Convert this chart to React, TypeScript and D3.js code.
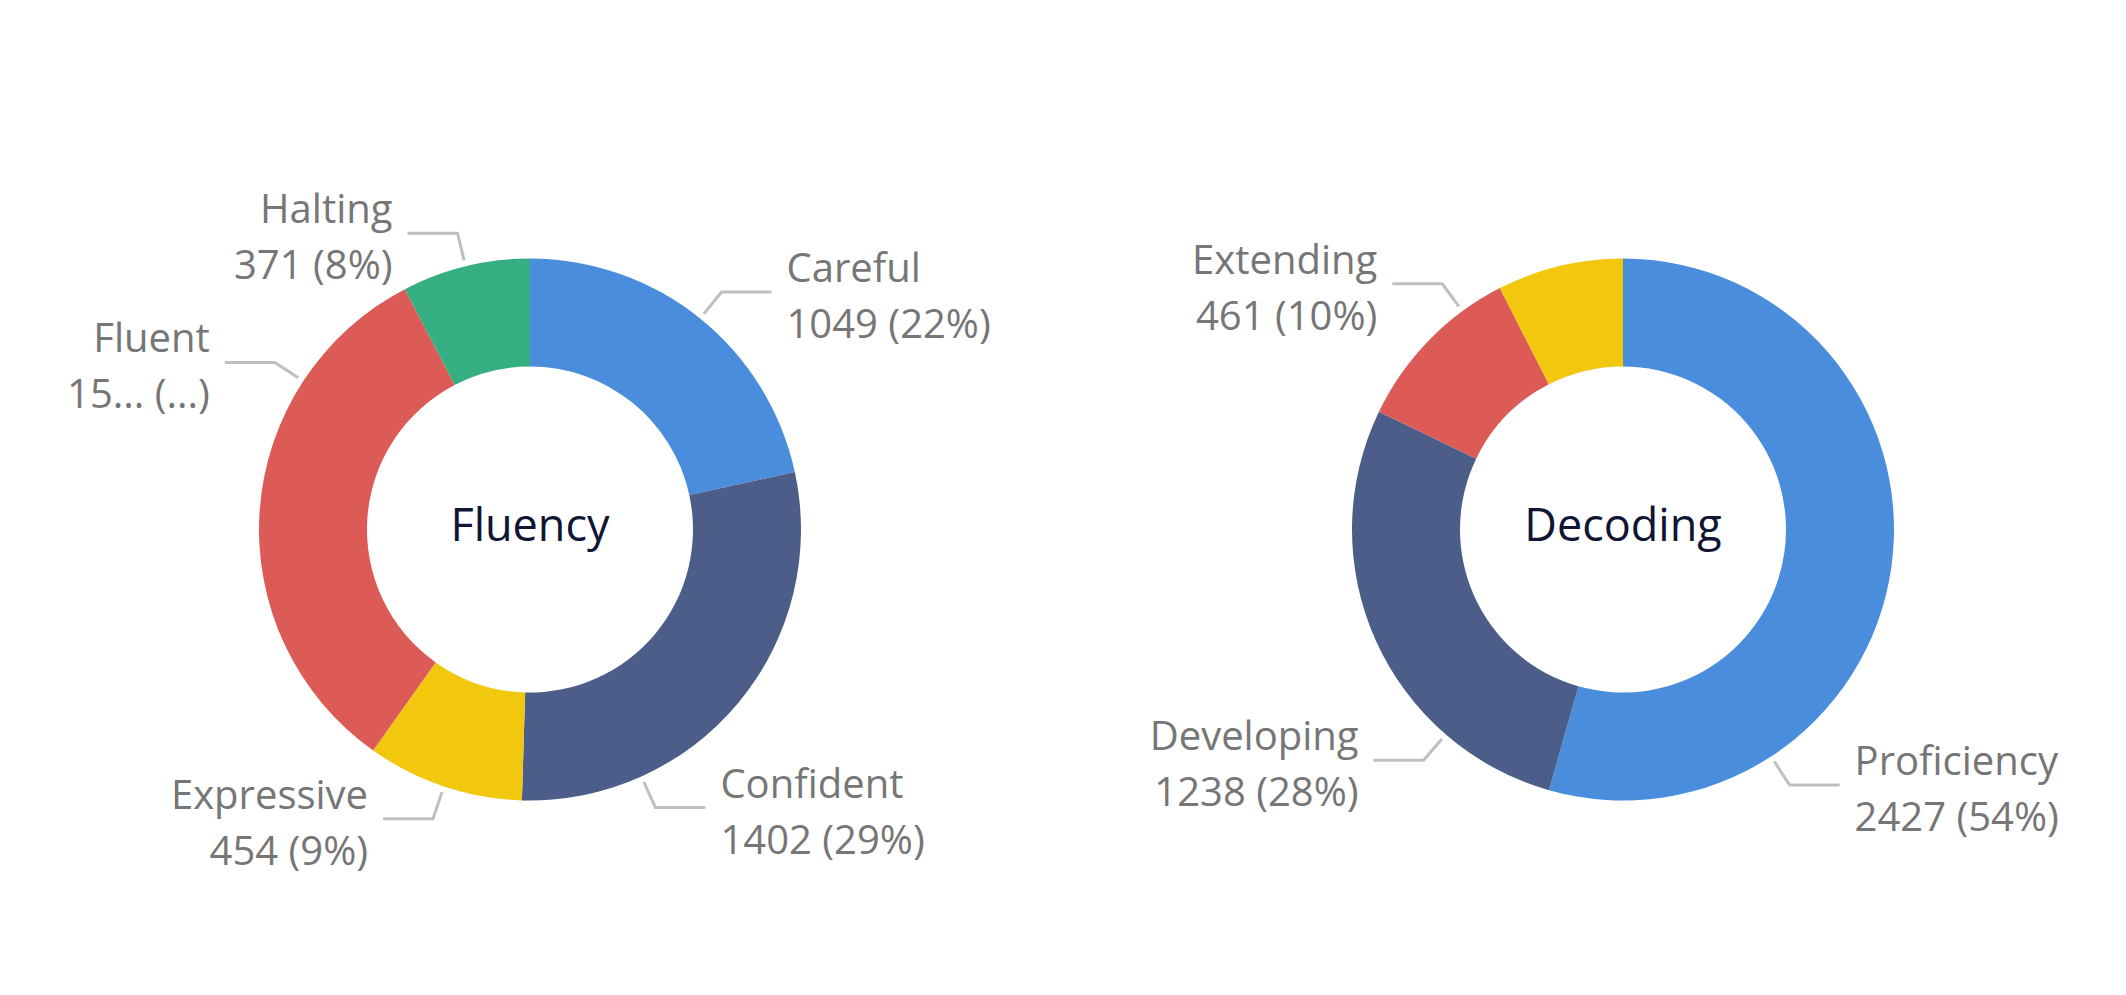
import React from "react";
import * as d3 from "d3";

// Fluency donut
const fluencyNames = ["Careful", "Confident", "Expressive", "Fluent", "Halting"];
const fluencyValues = [1049, 1402, 454, 1580, 371];
const fluencyColors = ["#4A8DDC", "#4C5D8A", "#F2C80F", "#DD5B57", "#35AF82"];

// Decoding donut (the yellow slice's label is hidden by the overlap rule)
const decodingNames = ["Proficiency", "Developing", "Extending", "Beginning"];
const decodingValues = [2427, 1238, 461, 335];
const decodingColors = ["#4A8DDC", "#4C5D8A", "#DD5B57", "#F2C80F"];

const width = 2126;
const height = 995;
const outerR = 271;
const innerR = 163;
const labelSize = 40;
const font = "'Open Sans', 'Noto Sans', sans-serif";

let ctx: CanvasRenderingContext2D | null = null;
const measure = (s: string) => {
  if (!ctx) ctx = document.createElement("canvas").getContext("2d");
  ctx!.font = `${labelSize}px "Open Sans"`;
  return ctx!.measureText(s).width;
};

const fitName = (name: string, maxW: number) => {
  if (measure(name) <= maxW) return name;
  for (let k = name.length - 1; k >= 1; k--) {
    const s = name.slice(0, k) + "...";
    if (measure(s) <= maxW) return s;
  }
  return "...";
};

const fitValue = (value: string, pct: string, maxW: number) => {
  const full = `${value} (${pct})`;
  if (measure(full) <= maxW) return full;
  for (let k = value.length - 1; k >= 1; k--) {
    const s = `${value.slice(0, k)}... (...)`;
    if (measure(s) <= maxW) return s;
  }
  return "...";
};

// leader anchor: slices lying mostly sideways get their leader moved toward top/bottom
const anchorAngle = (a0: number, a1: number) => {
  const mid = (a0 + a1) / 2;
  if (Math.abs(Math.cos(mid)) >= Math.SQRT1_2) return mid;
  const q1 = a0 + 0.25 * (a1 - a0);
  const q3 = a0 + 0.75 * (a1 - a0);
  return Math.abs(Math.cos(q1)) > Math.abs(Math.cos(q3)) ? q1 : q3;
};

type DonutProps = {
  title: string;
  names: string[];
  values: number[];
  colors: string[];
  cx: number;
  cy: number;
  left: number;
  right: number;
};

const Donut = ({ title, names, values, colors, cx, cy, left, right }: DonutProps) => {
  const total = d3.sum(values);
  const pct = d3.format(".0%");
  const pie = d3.pie<number>().sort(null).value((d) => d);
  const arcs = pie(values);
  const arc = d3.arc<d3.PieArcDatum<number>>().innerRadius(innerR).outerRadius(outerR);

  const labels = arcs.map((a, i) => {
    const ang = anchorAngle(a.startAngle, a.endAngle);
    const side = Math.sin(ang) >= 0 ? 1 : -1;
    const p0 = [(outerR + 6) * Math.sin(ang), -(outerR + 6) * Math.cos(ang)];
    const p1 = [(outerR + 34) * Math.sin(ang), -(outerR + 34) * Math.cos(ang)];
    const p2 = [p1[0] + side * 50, p1[1]];
    const tx = p2[0] + side * 15;
    const maxW = side > 0 ? right - (cx + tx) : cx + tx - left;
    return {
      i,
      side,
      value: values[i],
      points: [p0, p1, p2],
      tx,
      ty: p1[1],
      name: fitName(names[i], maxW),
      line2: fitValue(String(values[i]), pct(values[i] / total), maxW),
      show: true,
    };
  });

  // hide labels that would overlap a bigger one on the same side
  const kept: typeof labels = [];
  [...labels]
    .sort((a, b) => b.value - a.value)
    .forEach((l) => {
      if (kept.some((k) => k.side === l.side && Math.abs(k.ty - l.ty) < 95)) l.show = false;
      else kept.push(l);
    });

  const line = d3.line();

  return (
    <g transform={`translate(${cx},${cy})`}>
      {arcs.map((a, i) => (
        <path key={names[i]} d={arc(a) || ""} fill={colors[i]} />
      ))}
      {labels
        .filter((l) => l.show)
        .map((l) => (
          <g key={names[l.i]}>
            <path
              d={line(l.points as [number, number][]) || ""}
              fill="none"
              stroke="#BFBFBF"
              strokeWidth={3}
            />
            <text
              x={l.tx}
              textAnchor={l.side > 0 ? "start" : "end"}
              fontFamily={font}
              fontSize={labelSize}
              fill="#767676"
            >
              <tspan x={l.tx} y={l.ty - 10}>
                {l.name}
              </tspan>
              <tspan x={l.tx} y={l.ty + 46}>
                {l.line2}
              </tspan>
            </text>
          </g>
        ))}
      <text
        y={11}
        textAnchor="middle"
        fontFamily={font}
        fontSize={45}
        fill="#0F1533"
      >
        {title}
      </text>
    </g>
  );
};

export default function App() {
  return (
    <svg
      width={width}
      height={height}
      style={{ position: "absolute", left: 0, top: 0, display: "block", background: "#fff" }}
    >
      <Donut
        title="Fluency"
        names={fluencyNames}
        values={fluencyValues}
        colors={fluencyColors}
        cx={530}
        cy={529.5}
        left={60}
        right={1023}
      />
      <Donut
        title="Decoding"
        names={decodingNames}
        values={decodingValues}
        colors={decodingColors}
        cx={1623}
        cy={529.5}
        left={1103}
        right={2086}
      />
    </svg>
  );
}
